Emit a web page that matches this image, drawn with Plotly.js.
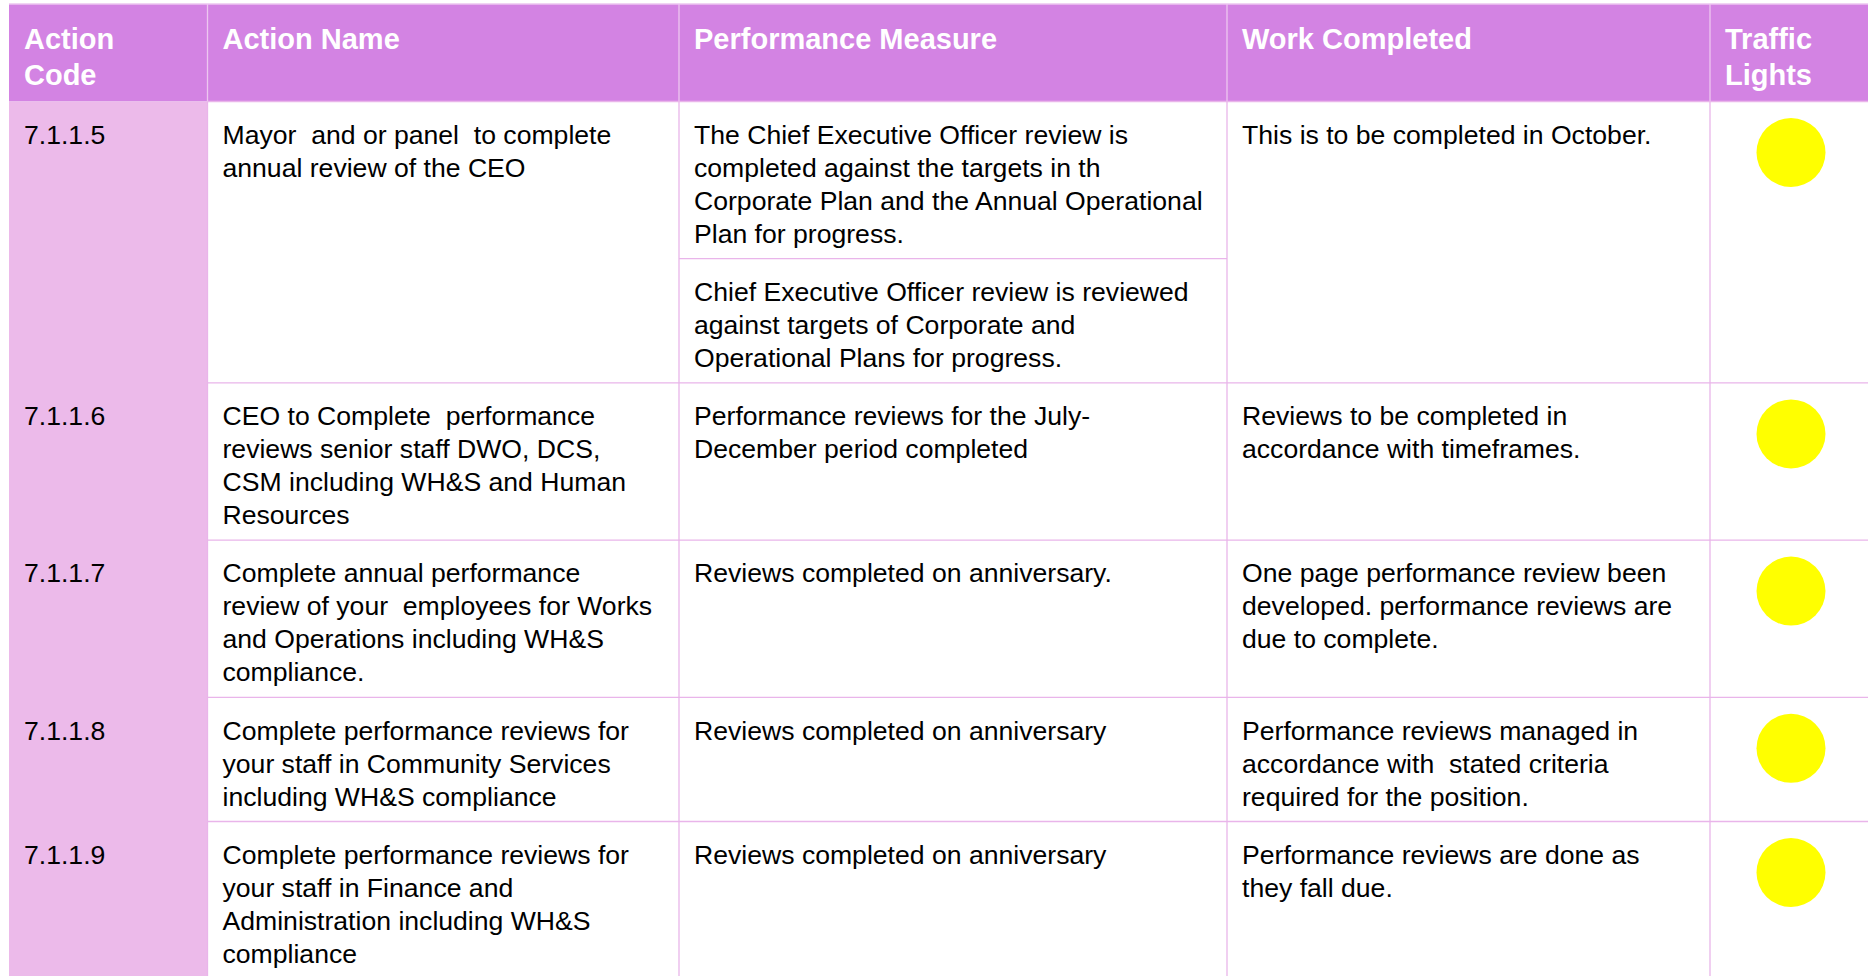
<!DOCTYPE html>
<html>
<head>
<meta charset="utf-8">
<script src="https://cdn.plot.ly/plotly-3.0.1.min.js"></script>
<style>
  html, body { margin: 0; padding: 0; background: #ffffff; overflow: hidden; }
  #chart { width: 1868px; height: 976px; }
</style>
</head>
<body>
<div id="chart"></div>
<script>
// ---------------- DATA ----------------
const headerLabels = ["Action<br>Code", "Action Name", "Performance Measure", "Work Completed", "Traffic<br>Lights"];

const actionCodes = ["7.1.1.5", "7.1.1.6", "7.1.1.7", "7.1.1.8", "7.1.1.9"];

const actionNames = [
  "Mayor  and or panel  to complete<br>annual review of the CEO",
  "CEO to Complete  performance<br>reviews senior staff DWO, DCS,<br>CSM including WH&S and Human<br>Resources",
  "Complete annual performance<br>review of your  employees for Works<br>and Operations including WH&S<br>compliance.",
  "Complete performance reviews for<br>your staff in Community Services<br>including WH&S compliance",
  "Complete performance reviews for<br>your staff in Finance and<br>Administration including WH&S<br>compliance"
];

// each action can have one or more performance measures (sub-cells)
const performanceMeasures = [
  ["The Chief Executive Officer review is<br>completed against the targets in th<br>Corporate Plan and the Annual Operational<br>Plan for progress.",
   "Chief Executive Officer review is reviewed<br>against targets of Corporate and<br>Operational Plans for progress."],
  ["Performance reviews for the July-<br>December period completed"],
  ["Reviews completed on anniversary."],
  ["Reviews completed on anniversary"],
  ["Reviews completed on anniversary"]
];

const workCompleted = [
  "This is to be completed in October.",
  "Reviews to be completed in<br>accordance with timeframes.",
  "One page performance review been<br>developed. performance reviews are<br>due to complete.",
  "Performance reviews managed in<br>accordance with  stated criteria<br>required for the position.",
  "Performance reviews are done as<br>they fall due."
];

const trafficLights = ["yellow", "yellow", "yellow", "yellow", "yellow"];

// ---------------- LAYOUT / STYLE ----------------
const W = 1868, H = 976;
const colEdges = [9, 207.5, 679, 1227, 1710, 1872];
const tableTop = 4, headerBottom = 101.5;
const bodyFont = 26.6, headerFont = 29;
const bodyLineH = 33.0, headerLineH = 35.7;
const cellPad = 25.2;         // extra vertical space in a cell beyond its lines
const firstBaseline = 42.3;   // from cell top to first baseline
const headerFirstBaseline = 45.3;
const padX = 15;
const lightOffset = 51;
const lightSize = 69;

const headerColor = "#D383E3";
const codeColColor = "#ECBAEA";
const borderColor = "#E9B5EA";
const headerBorderColor = "#EDC6F0";
const lightColors = { yellow: "#FFFF00", green: "#00B050", red: "#FF0000" };

const splitLines = s => s.split("<br>");
const nLines = s => splitLines(s).length;
const fixSpaces = s => s.replace(/  /g, " \u00a0");

// compute row geometry from the text
const rows = [];
let yCursor = headerBottom;
actionCodes.forEach((code, i) => {
  const subs = performanceMeasures[i].map(m => nLines(m));
  const subHeights = subs.map(n => n * bodyLineH + cellPad);
  const otherMax = Math.max(nLines(code), nLines(actionNames[i]), nLines(workCompleted[i]));
  let total = subHeights.reduce((a, b) => a + b, 0);
  const otherH = otherMax * bodyLineH + cellPad;
  if (otherH > total) { subHeights[subHeights.length - 1] += otherH - total; total = otherH; }
  const subTops = [];
  let t = yCursor;
  subHeights.forEach(h => { subTops.push(t); t += h; });
  rows.push({ top: yCursor, bottom: yCursor + total, subTops: subTops, subBottoms: subTops.map((s, k) => s + subHeights[k]) });
  yCursor += total;
});

// text traces
const textX = [], textY = [], textS = [];
const hX = [], hY = [], hS = [];
function addCell(text, colIdx, top, arrX, arrY, arrS, fs, base, lh) {
  splitLines(text).forEach((line, k) => {
    arrX.push(colEdges[colIdx] + padX);
    arrY.push(top + base + k * lh - 0.25 * fs);
    arrS.push(fixSpaces(line));
  });
}
headerLabels.forEach((lab, c) => addCell(lab, c, tableTop, hX, hY, hS, headerFont, headerFirstBaseline, headerLineH));
rows.forEach((r, i) => {
  addCell(actionCodes[i], 0, r.top, textX, textY, textS, bodyFont, firstBaseline, bodyLineH);
  addCell(actionNames[i], 1, r.top, textX, textY, textS, bodyFont, firstBaseline, bodyLineH);
  performanceMeasures[i].forEach((m, k) => addCell(m, 2, r.subTops[k], textX, textY, textS, bodyFont, firstBaseline, bodyLineH));
  addCell(workCompleted[i], 3, r.top, textX, textY, textS, bodyFont, firstBaseline, bodyLineH);
});

// shapes: fills and borders
const shapes = [];
const tableRight = colEdges[colEdges.length - 1];
const tableBottom = rows[rows.length - 1].bottom;
shapes.push({ type: "rect", xref: "x", yref: "y", x0: colEdges[0], x1: tableRight, y0: tableTop, y1: headerBottom,
  fillcolor: headerColor, line: { width: 0 }, layer: "below" });
shapes.push({ type: "rect", xref: "x", yref: "y", x0: colEdges[0], x1: colEdges[1], y0: headerBottom, y1: tableBottom,
  fillcolor: codeColColor, line: { width: 0 }, layer: "below" });
const hline = (x0, x1, y, col) => shapes.push({ type: "line", xref: "x", yref: "y", x0: x0, x1: x1, y0: y, y1: y,
  line: { color: col, width: 1.3 }, layer: "below" });
const vline = (x, y0, y1, col) => shapes.push({ type: "line", xref: "x", yref: "y", x0: x, x1: x, y0: y0, y1: y1,
  line: { color: col, width: 1.3 }, layer: "below" });
hline(colEdges[0], tableRight, tableTop, headerBorderColor);
hline(colEdges[1], tableRight, headerBottom, borderColor);
rows.forEach((r, i) => {
  if (i < rows.length - 1) hline(colEdges[1], tableRight, r.bottom, borderColor);
  r.subBottoms.slice(0, -1).forEach(b => hline(colEdges[2], colEdges[3], b, borderColor));
});
for (let c = 1; c < colEdges.length - 1; c++) {
  vline(colEdges[c], tableTop, headerBottom, headerBorderColor);
  vline(colEdges[c], headerBottom, tableBottom, borderColor);
}

const traces = [
  { type: "scatter", mode: "text", x: hX, y: hY, text: hS, textposition: "middle right",
    textfont: { family: "Liberation Sans, Arial, sans-serif", size: headerFont, color: "#FFFFFF", weight: "bold" },
    hoverinfo: "skip", cliponaxis: false, showlegend: false },
  { type: "scatter", mode: "text", x: textX, y: textY, text: textS, textposition: "middle right",
    textfont: { family: "Liberation Sans, Arial, sans-serif", size: bodyFont, color: "#000000" },
    hoverinfo: "skip", cliponaxis: false, showlegend: false },
  { type: "scatter", mode: "markers",
    x: trafficLights.map(() => (colEdges[4] + colEdges[5]) / 2),
    y: rows.map(r => r.top + lightOffset),
    marker: { size: lightSize, color: trafficLights.map(c => lightColors[c]), line: { width: 0 } },
    hoverinfo: "skip", cliponaxis: false, showlegend: false }
];

const layout = {
  width: W, height: H,
  margin: { l: 0, r: 0, t: 0, b: 0, pad: 0 },
  paper_bgcolor: "#ffffff", plot_bgcolor: "#ffffff",
  xaxis: { range: [0, W], visible: false, fixedrange: true },
  yaxis: { range: [H, 0], visible: false, fixedrange: true },
  shapes: shapes,
  showlegend: false
};

Plotly.newPlot("chart", traces, layout, { staticPlot: true, displayModeBar: false });
</script>
</body>
</html>
